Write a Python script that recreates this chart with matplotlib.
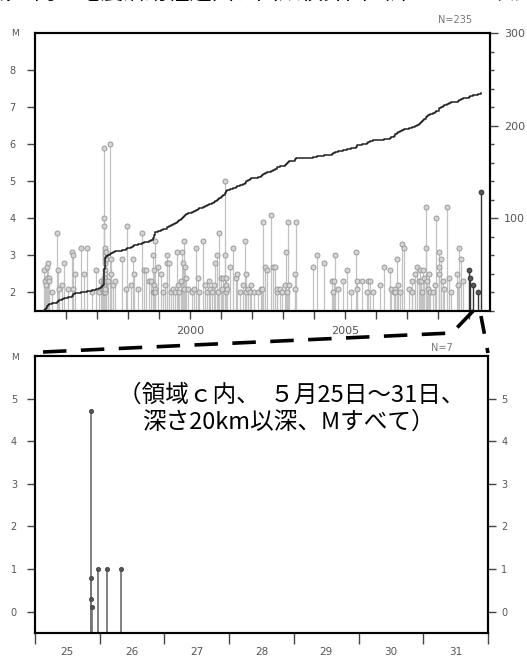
#! /usr/bin/env python3
"""M-T diagram with cumulative count, plus a zoom on the last week."""
import matplotlib
matplotlib.use('Agg')
import matplotlib.pyplot as plt
import numpy as np
from matplotlib.lines import Line2D
from matplotlib.ticker import FixedLocator, MultipleLocator

plt.rcParams['font.family'] = ['DejaVu Sans']
JP = ['Noto Sans CJK JP', 'DejaVu Sans']

# events M>=2.0, decimal year / magnitude (N=235), one line per year
quake_years = [
    1995.30, 1995.31, 1995.35, 1995.38, 1995.40, 1995.43, 1995.44, 1995.46, 1995.55, 1995.72, 1995.73, 1995.78, 1995.86, 1995.95,
    1996.05, 1996.20, 1996.22, 1996.24, 1996.30, 1996.49, 1996.58, 1996.69, 1996.85, 1996.97,
    1997.05, 1997.12, 1997.16, 1997.19,
    1997.220, 1997.222, 1997.223, 1997.225, 1997.226, 1997.228, 1997.229, 1997.230, 1997.232, 1997.233,
    1997.234, 1997.236, 1997.237, 1997.238, 1997.240, 1997.241, 1997.242, 1997.244, 1997.245, 1997.246,
    1997.248, 1997.249, 1997.250, 1997.252, 1997.254, 1997.256, 1997.258, 1997.260, 1997.262,
    1997.29, 1997.30, 1997.36, 1997.43, 1997.44, 1997.46, 1997.52, 1997.58, 1997.80, 1997.92, 1997.97,
    1998.09, 1998.17, 1998.19, 1998.31, 1998.44, 1998.52, 1998.58, 1998.69, 1998.75, 1998.80, 1998.82, 1998.83,
    1998.84, 1998.85, 1998.86, 1998.87, 1998.88, 1998.98,
    1999.05, 1999.12, 1999.20, 1999.25, 1999.26, 1999.33, 1999.40, 1999.46, 1999.52, 1999.57, 1999.62, 1999.66,
    1999.72, 1999.75, 1999.77, 1999.80, 1999.82, 1999.84, 1999.88, 1999.95,
    2000.05, 2000.12, 2000.21, 2000.26, 2000.30, 2000.43, 2000.48, 2000.54, 2000.60, 2000.65, 2000.72, 2000.78,
    2000.81, 2000.86, 2000.90, 2000.95, 2000.99,
    2001.04, 2001.06, 2001.13, 2001.14, 2001.15, 2001.16, 2001.17, 2001.18, 2001.29, 2001.40, 2001.47, 2001.53,
    2001.60, 2001.70, 2001.77, 2001.80, 2001.82, 2001.88, 2001.93, 2001.97,
    2002.07, 2002.18, 2002.28, 2002.31, 2002.36, 2002.42, 2002.47, 2002.63, 2002.69, 2002.74, 2002.80, 2002.81,
    2002.90, 2002.96,
    2003.08, 2003.10, 2003.12, 2003.17, 2003.21, 2003.38, 2003.40, 2003.42, 2003.98,
    2004.09, 2004.33, 2004.57, 2004.60, 2004.65, 2004.68, 2004.78, 2004.95,
    2005.07, 2005.20, 2005.37, 2005.38, 2005.39, 2005.54, 2005.72, 2005.75, 2005.81, 2005.90,
    2006.13, 2006.26, 2006.45, 2006.50, 2006.58, 2006.61, 2006.62, 2006.67, 2006.72, 2006.78, 2006.83, 2006.92,
    2007.07, 2007.15, 2007.17, 2007.25, 2007.31, 2007.38, 2007.42, 2007.45, 2007.50, 2007.53, 2007.56, 2007.60,
    2007.62, 2007.64, 2007.68, 2007.70, 2007.74, 2007.85, 2007.90, 2007.95,
    2008.03, 2008.04, 2008.05, 2008.10, 2008.17, 2008.18, 2008.28, 2008.35, 2008.41, 2008.60, 2008.66, 2008.69,
    2008.76, 2008.82,
    2009.01, 2009.02, 2009.12, 2009.30, 2009.40,
]
quake_mags = [
    2.6, 2.3, 2.2, 2.4, 2.7, 2.8, 2.4, 2.3, 2.0, 3.6, 2.6, 2.1, 2.2, 2.8,
    2.1, 3.1, 3.0, 2.1, 2.5, 3.2, 2.5, 3.2, 2.0, 2.6,
    2.0, 2.3, 2.1, 2.2,
    2.2, 2.0, 2.1, 2.3, 2.0, 2.2, 2.0, 2.4, 2.1, 2.0,
    2.3, 2.1, 2.0, 2.2, 5.9, 4.0, 3.8, 3.2, 3.1, 3.0,
    2.9, 2.6, 2.1, 2.5, 2.0, 2.4, 2.8, 2.3, 2.1,
    3.1, 2.9, 2.3, 6.0, 2.9, 2.5, 2.2, 2.3, 2.9, 2.1, 3.8,
    2.2, 2.9, 2.5, 2.1, 3.6, 2.6, 2.6, 2.3, 2.3, 2.0, 3.0, 2.6,
    2.0, 2.2, 3.4, 2.1, 2.0, 2.7,
    2.5, 2.0, 2.2, 3.0, 2.8, 2.8, 2.0, 2.1, 2.0, 3.1, 2.2, 2.0,
    2.3, 3.1, 2.8, 2.1, 3.4, 2.7, 2.4, 2.1,
    2.0, 2.1, 3.2, 2.4, 2.0, 3.4, 2.2, 2.0, 2.3, 2.1, 2.0, 2.2,
    2.8, 3.0, 2.0, 3.6, 2.4,
    2.1, 2.4, 3.0, 5.0, 2.4, 2.2, 2.0, 2.1, 2.7, 3.2, 2.4, 2.5,
    2.0, 2.2, 3.4, 2.0, 2.5, 2.1, 2.0, 2.2,
    2.0, 2.0, 2.1, 2.1, 3.9, 2.7, 2.6, 4.1, 2.7, 2.7, 2.0, 2.1,
    2.1, 2.0,
    2.2, 3.1, 2.0, 3.9, 2.2, 2.5, 2.1, 3.9, 2.7,
    3.0, 2.8, 2.3, 2.0, 2.3, 3.0, 2.1, 2.3,
    2.6, 2.0, 3.1, 2.3, 2.1, 2.3, 2.0, 2.3, 2.3, 2.0,
    2.2, 2.7, 2.6, 2.1, 2.0, 2.1, 2.0, 2.9, 2.2, 2.0, 3.3, 3.2,
    2.1, 2.3, 2.0, 2.5, 2.7, 2.3, 2.6, 2.3, 2.0, 2.6, 2.4, 3.2,
    4.3, 2.3, 2.1, 2.5, 2.0, 2.0, 2.2, 4.0,
    3.1, 2.7, 2.5, 2.9, 2.3, 2.1, 4.3, 2.4, 2.0, 2.5, 2.2, 3.2,
    2.9, 2.3,
    2.6, 2.4, 2.2, 2.0, 4.7,
]

# May 25-31 events, all magnitudes (N=7)
may_days = [25.86, 25.87, 25.87, 25.88, 25.98, 26.11, 26.33]
may_mags = [0.8, 4.7, 0.3, 0.1, 1.0, 1.0, 1.0]

year_ticks = list(range(1996, 2010))
labeled_years = [2000, 2005]
m_ticks_top = [2, 3, 4, 5, 6, 7, 8]
count_ticks = [100, 200, 300]
day_ticks = [25, 26, 27, 28, 29, 30, 31, 32]
day_labels = ['25', '26', '27', '28', '29', '30', '31']
m_ticks_bottom = [0, 1, 2, 3, 4, 5]

W, H = 527, 656
fig = plt.figure(figsize=(W / 100, H / 100), dpi=100)

TICK_COL = '#444444'
LAB_COL = '#555555'


def px_box(left, top, right, bottom):
    return [left / W, 1 - bottom / H, (right - left) / W, (bottom - top) / H]


def style_spines(ax):
    for sp in ax.spines.values():
        sp.set_linewidth(1.5)
        sp.set_color('black')


# ---------- top panel ----------
ax = fig.add_axes(px_box(35, 33, 490, 311))
years = np.array(quake_years)
mags = np.array(quake_mags)
order = np.argsort(years)
years, mags = years[order], mags[order]
recent = years >= 2009.0
ymin = 1.5

ax.vlines(years[~recent], ymin, mags[~recent], color='#c2c2c2', lw=0.9, zorder=1)
ax.plot(years[~recent], mags[~recent], 'o', ms=3.6, mfc='#d4d4d4', mec='#9c9c9c', mew=0.7, zorder=2)
ax.vlines(years[recent], ymin, mags[recent], color='#333333', lw=1.0, zorder=3)
ax.plot(years[recent], mags[recent], 'o', ms=3.4, mfc='#555555', mec='#333333', mew=0.7, zorder=4)

ax.set_xlim(1995.0, 2009.68)
ax.set_ylim(ymin, 9.0)
ax.set_xticks(year_ticks)
ax.set_xticklabels([str(y) if y in labeled_years else '' for y in year_ticks])
ax.set_yticks(m_ticks_top)
ax.tick_params(axis='x', direction='out', length=5.5, width=1, color=TICK_COL,
               labelsize=8, labelcolor=LAB_COL, pad=5)
ax.tick_params(axis='y', direction='out', length=6, width=1, color=TICK_COL,
               labelsize=7, labelcolor=LAB_COL, pad=8)
style_spines(ax)
ax.text(-0.044, 1.0, 'M', transform=ax.transAxes, ha='center', va='center',
        fontsize=6.5, color=LAB_COL)
ax.text(0.96, 1.045, 'N=235', transform=ax.transAxes, ha='right', va='center',
        fontsize=7, color='#777777')

ax2 = ax.twinx()
counts = np.arange(1, len(years) + 1)
ax2.step(np.r_[years[0], years], np.r_[0, counts], where='post', color='#222222', lw=1.1, zorder=5)
ax2.set_ylim(0, 300)
ax2.yaxis.set_major_locator(FixedLocator(count_ticks))
ax2.yaxis.set_minor_locator(MultipleLocator(20))
ax2.tick_params(axis='y', which='major', direction='out', length=6, width=1, color=TICK_COL,
                labelsize=8, labelcolor=LAB_COL, pad=4)
ax2.tick_params(axis='y', which='minor', direction='out', length=3, width=1, color=TICK_COL)
style_spines(ax2)

# ---------- bottom panel ----------
bx = fig.add_axes(px_box(35, 356, 488, 633))
bx.vlines(may_days, -0.5, may_mags, color='#777777', lw=1.3, zorder=1)
bx.plot(may_days, may_mags, 'o', ms=3.0, mfc='#555555', mec='#444444', mew=0.6, zorder=2)
bx.set_xlim(25, 32)
bx.set_ylim(-0.5, 6.0)
bx.xaxis.set_major_locator(FixedLocator(day_ticks))
bx.xaxis.set_minor_locator(FixedLocator([d + 0.5 for d in day_ticks[:-1]]))
bx.set_xticklabels([''] * len(day_ticks))
bx.set_xticklabels(day_labels, minor=True)
bx.tick_params(axis='x', which='major', direction='out', length=8, width=1, color=TICK_COL)
bx.tick_params(axis='x', which='minor', length=0, labelsize=7.5, labelcolor=LAB_COL, pad=10)
bx.set_yticks(m_ticks_bottom)
bx.tick_params(axis='y', direction='out', length=6, width=1, color=TICK_COL,
               labelsize=7, labelcolor=LAB_COL, pad=7)
style_spines(bx)

bx2 = bx.twinx()
bx2.set_ylim(bx.get_ylim())
bx2.set_yticks(m_ticks_bottom)
bx2.tick_params(axis='y', direction='out', length=6, width=1, color=TICK_COL,
                labelsize=7, labelcolor=LAB_COL, pad=3.5)
style_spines(bx2)

bx.text(-0.044, 0.995, 'M', transform=bx.transAxes, ha='center', va='center',
        fontsize=6.5, color=LAB_COL)
bx.text(0.922, 1.028, 'N=7', transform=bx.transAxes, ha='right', va='center',
        fontsize=7, color='#777777')
bx.text(0.183, 0.859, '（領域ｃ内、  ５月25日～31日、',
        transform=bx.transAxes, ha='left', va='center', fontsize=17, family=JP)
bx.text(0.236, 0.762, '深さ20km以深、Mすべて）',
        transform=bx.transAxes, ha='left', va='center', fontsize=17, family=JP)

# ---------- zoom connector lines (figure pixels) ----------
def fig_line(xs, ys, **kw):
    fig.add_artist(Line2D([x / W for x in xs], [1 - y / H for y in ys],
                          transform=fig.transFigure, color='black', **kw))


fig_line([43, 452, 474], [352, 333, 310], lw=2.6, dashes=(6.5, 4))
fig_line([481, 488], [316, 353], lw=2.6, dashes=(5, 4))

# caption line cropped off at the very top, only the glyph bottoms show
fig.text(0.5, 1 + 8 / H, '領域ｃ内の地震活動経過図、回数積算図（深さ20km以深）',
         ha='center', va='center', fontsize=16, family=JP)

fig.savefig('out.png', dpi=100)
